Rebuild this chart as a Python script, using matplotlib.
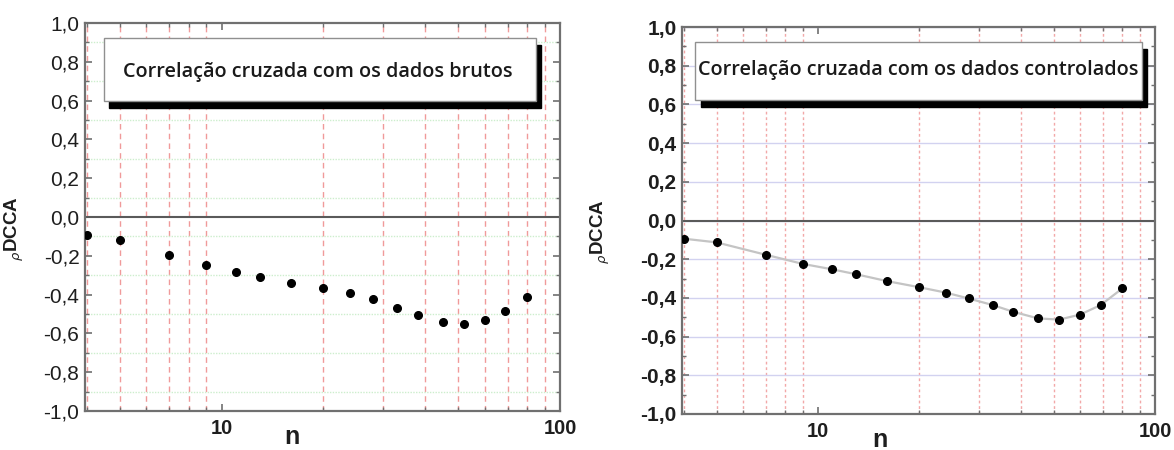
import matplotlib
matplotlib.use("Agg")
import matplotlib.pyplot as plt
from matplotlib.patches import Rectangle
from matplotlib.ticker import MultipleLocator, FixedLocator, LogLocator, NullFormatter, FuncFormatter

# ---- data ----
n_values = [4, 5, 7, 9, 11, 13, 16, 20, 24, 28, 33, 38, 45, 52, 60, 69, 80]
rho_raw = [-0.093, -0.117, -0.195, -0.248, -0.283, -0.309, -0.340, -0.368, -0.394,
           -0.425, -0.468, -0.507, -0.543, -0.552, -0.533, -0.482, -0.411]
rho_ctrl = [-0.094, -0.113, -0.177, -0.224, -0.252, -0.278, -0.313, -0.345, -0.373,
            -0.403, -0.437, -0.472, -0.506, -0.512, -0.486, -0.437, -0.351]
title_raw = "Correlação cruzada com os dados brutos"
title_ctrl = "Correlação cruzada com os dados controlados"
y_ticks = [1.0, 0.8, 0.6, 0.4, 0.2, 0.0, -0.2, -0.4, -0.6, -0.8, -1.0]
x_ticks = [10, 100]

fig = plt.figure(figsize=(11.74, 4.5), dpi=100)
axL = fig.add_axes([85 / 1174, 1 - 411 / 450, 475 / 1174, 388 / 450])
axR = fig.add_axes([682 / 1174, 1 - 414 / 450, 473 / 1174, 387 / 450])

comma = FuncFormatter(lambda v, p: ("%.1f" % v).replace(".", ",").replace("-0,0", "0,0"))


def style(ax, bold_ticks, vgrid_ls, vgrid_color, hgrid_minor, hgrid_major):
    ax.set_xscale("log")
    ax.set_xlim(3.95, 100)
    ax.set_ylim(-1.0, 1.0)
    ax.yaxis.set_major_locator(FixedLocator(y_ticks))
    ax.yaxis.set_minor_locator(MultipleLocator(0.1))
    ax.yaxis.set_major_formatter(comma)
    ax.xaxis.set_major_locator(FixedLocator(x_ticks))
    ax.xaxis.set_minor_locator(LogLocator(base=10, subs=range(2, 10)))
    ax.xaxis.set_minor_formatter(NullFormatter())
    ax.xaxis.set_major_formatter(FuncFormatter(lambda v, p: "%d" % v))
    for s in ax.spines.values():
        s.set_color("#707070")
        s.set_linewidth(1.6)
    ax.tick_params(which="both", direction="in", top=True, right=True, color="#707070")
    ax.tick_params(which="major", length=5, width=1.2)
    ax.tick_params(which="minor", length=3, width=1.0)
    ax.tick_params(axis="y", which="major", pad=4)
    ax.tick_params(axis="x", which="major", pad=6)
    for lab in ax.get_yticklabels():
        lab.set_fontfamily("Liberation Sans")
        lab.set_fontsize(15)
        lab.set_fontweight("bold" if bold_ticks else "normal")
        lab.set_color("#1e1e1e")
    for lab in ax.get_xticklabels():
        lab.set_fontfamily("Liberation Sans")
        lab.set_fontsize(14.5)
        lab.set_fontweight("bold")
        lab.set_color("#1e1e1e")
    ax.grid(True, which="minor", axis="x", color=vgrid_color, linestyle=vgrid_ls, linewidth=1.0)
    if hgrid_minor:
        ax.grid(True, which="minor", axis="y", color="#cdeecd", linestyle=(0, (1, 1)), linewidth=1.0)
    if hgrid_major:
        ax.grid(True, which="major", axis="y", color="#d2d2f0", linestyle="-", linewidth=1.0)
    ax.axhline(0.0, color="#5a5a5a", linewidth=1.5, zorder=2)
    ax.set_axisbelow(True)


style(axL, False, (0, (4, 3)), "#f09a9a", True, False)
style(axR, True, (0, (2, 2)), "#f2a8a8", False, True)

axL.plot(n_values, rho_raw, "o", color="black", markersize=5.5, clip_on=True, zorder=3)
axR.plot(n_values, rho_ctrl, "-", color="#c4c4c4", linewidth=1.6, zorder=3)
axR.plot(n_values, rho_ctrl, "o", color="black", markersize=5.5, clip_on=True, zorder=4)


def boxed_title(ax, x0, x1, y0, y1, dx, dy, text, tx, ty, fs):
    ax.add_patch(Rectangle((x0 + dx, y0 - dy), x1 - x0, y1 - y0, transform=ax.transAxes,
                           facecolor="black", edgecolor="black", zorder=5, clip_on=False))
    ax.add_patch(Rectangle((x0, y0), x1 - x0, y1 - y0, transform=ax.transAxes,
                           facecolor="white", edgecolor="#909090", linewidth=1.0, zorder=6,
                           clip_on=False))
    ax.text(tx, ty, text, transform=ax.transAxes, ha="center", va="center",
            fontsize=fs, fontweight="semibold", family=["Open Sans", "DejaVu Sans"],
            color="#1a1a1a", zorder=7)


boxed_title(axL, 0.039, 0.949, 0.80, 0.9625, 0.012, 0.02, title_raw, 0.49, 0.875, 14.3)
boxed_title(axR, 0.028, 0.972, 0.812, 0.962, 0.012, 0.02, title_ctrl, 0.50, 0.888, 14.3)

for ax, lx, ly in [(axL, -0.148, 0.47), (axR, -0.172, 0.47)]:
    ax.text(lx, ly, r"$_{\rho}$DCCA", transform=ax.transAxes, rotation=90,
            ha="center", va="center", fontsize=13.5, fontweight="bold",
            family="Liberation Sans", color="#1e1e1e")

axL.text(0.436, -0.068, "n", transform=axL.transAxes, ha="center", va="center",
         fontsize=18, fontweight="bold", family="Liberation Sans", color="#1e1e1e")
axR.text(0.419, -0.068, "n", transform=axR.transAxes, ha="center", va="center",
         fontsize=18, fontweight="bold", family="Liberation Sans", color="#1e1e1e")

fig.savefig("out.png", dpi=100)
